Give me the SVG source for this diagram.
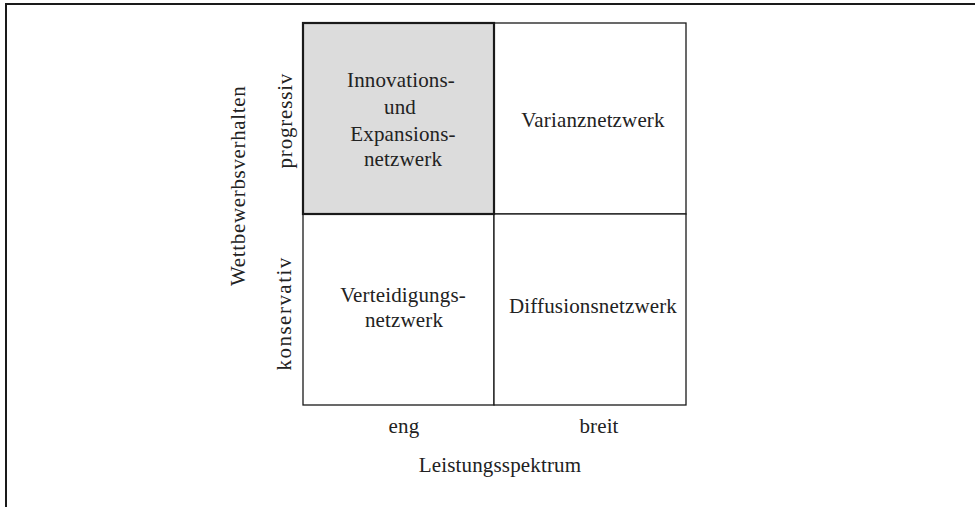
<svg xmlns="http://www.w3.org/2000/svg" width="975" height="507" viewBox="0 0 975 507">
  <style>
    text { font-family: "Liberation Serif", "Times New Roman", serif; font-size: 21px; fill: #222222; text-anchor: middle; letter-spacing: 0.15px; }
    .cell { fill: #ffffff; stroke: #1a1a1a; stroke-width: 1.3; }
    .hl { fill: #dcdcdc; stroke: #1a1a1a; stroke-width: 2.2; }
    .frame { fill: none; stroke: #1a1a1a; stroke-width: 2; }
  </style>
  <rect width="975" height="507" fill="#ffffff"/>
  <!-- outer frame (open to right and bottom) -->
  <path class="frame" d="M6 507 V4 H975"/>

  <!-- portfolio matrix cells -->
  <g id="cell-varianz">
    <rect class="cell" x="494" y="23" width="192" height="191"/>
    <text x="593" y="127">Varianznetzwerk</text>
  </g>
  <g id="cell-verteidigung">
    <rect class="cell" x="303" y="214" width="191" height="191"/>
    <text x="403" y="302">Verteidigungs-</text>
    <text x="404" y="327">netzwerk</text>
  </g>
  <g id="cell-diffusion">
    <rect class="cell" x="494" y="214" width="192" height="191"/>
    <text x="593" y="313">Diffusionsnetzwerk</text>
  </g>
  <g id="cell-innovation">
    <rect class="hl" x="303" y="23" width="191" height="191"/>
    <text x="401" y="87">Innovations-</text>
    <text x="400" y="114">und</text>
    <text x="403" y="141">Expansions-</text>
    <text x="403" y="166">netzwerk</text>
  </g>

  <!-- axis labels -->
  <g id="axis-x">
    <text x="404" y="433">eng</text>
    <text x="599" y="433">breit</text>
    <text x="500" y="472">Leistungsspektrum</text>
  </g>
  <g id="axis-y">
    <text transform="translate(292 121) rotate(-90)" textLength="95" lengthAdjust="spacing">progressiv</text>
    <text transform="translate(291 314) rotate(-90)" textLength="113" lengthAdjust="spacing">konservativ</text>
    <text transform="translate(245 186) rotate(-90)" textLength="200" lengthAdjust="spacing">Wettbewerbsverhalten</text>
  </g>
</svg>
